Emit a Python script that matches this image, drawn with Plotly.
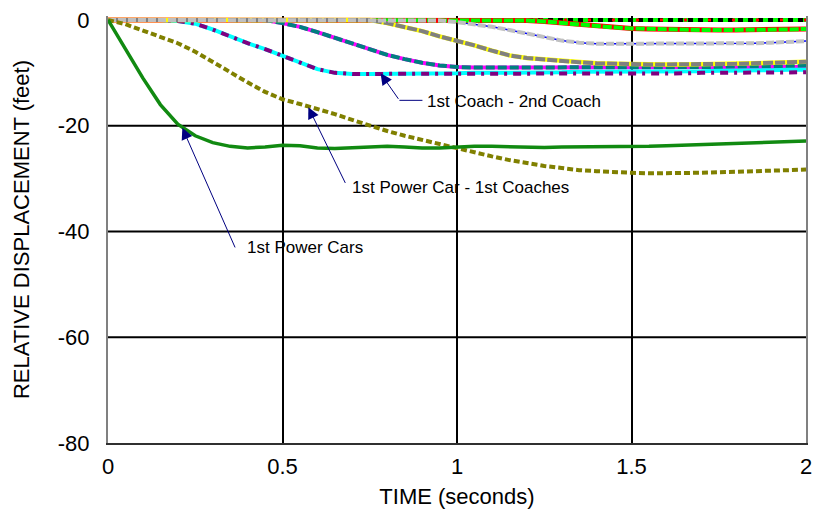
import plotly.graph_objects as go

# Time axis (seconds)
time_s = [0.00, 0.05, 0.10, 0.15, 0.20, 0.25, 0.30, 0.35, 0.40, 0.45,
          0.50, 0.55, 0.60, 0.65, 0.70, 0.75, 0.80, 0.85, 0.90, 0.95,
          1.00, 1.05, 1.10, 1.15, 1.20, 1.25, 1.30, 1.35, 1.40, 1.45,
          1.50, 1.55, 1.60, 1.65, 1.70, 1.75, 1.80, 1.85, 1.90, 1.95, 2.00]

# Relative displacements (feet)
power_cars = [0.0, -5.5, -11.0, -16.0, -19.7, -21.9, -23.2, -23.9, -24.2, -24.0,
              -23.7, -23.8, -24.2, -24.3, -24.2, -24.0, -23.9, -24.0, -24.2, -24.2,
              -24.0, -23.9, -23.9, -24.0, -24.1, -24.1, -24.0, -24.0, -24.0, -24.0,
              -24.0, -23.9, -23.8, -23.7, -23.6, -23.5, -23.4, -23.3, -23.1, -23.0, -22.9]

power_car_coach = [0.0, -0.8, -2.0, -3.2, -4.4, -6.0, -8.0, -9.9, -11.8, -13.6,
                   -15.0, -15.9, -16.8, -17.8, -18.9, -20.0, -21.0, -21.9, -22.7, -23.5,
                   -24.2, -25.0, -25.8, -26.5, -27.1, -27.6, -28.0, -28.4, -28.6, -28.8,
                   -28.9, -29.0, -29.0, -28.9, -28.9, -28.8, -28.7, -28.6, -28.5, -28.4, -28.3]

coach1_coach2_a = [0.0, 0.0, 0.0, 0.0, -0.2, -0.7, -1.8, -3.2, -4.4, -5.5,
                   -6.7, -8.1, -9.3, -10.0, -10.2, -10.2, -10.2, -10.1, -10.1, -10.1,
                   -10.1, -10.1, -10.1, -10.1, -10.1, -10.1, -10.1, -10.1, -10.1, -10.1,
                   -10.1, -10.1, -10.1, -10.1, -10.0, -10.0, -10.0, -10.0, -10.0, -9.9, -9.9]

coach1_coach2_b = [0.0, 0.0, 0.0, 0.0, -0.2, -0.7, -1.8, -3.2, -4.4, -5.5,
                   -6.7, -8.1, -9.3, -10.0, -10.2, -10.2, -10.2, -10.1, -10.1, -10.1,
                   -10.1, -10.0, -10.0, -9.9, -9.9, -9.9, -9.9, -9.8, -9.8, -9.8,
                   -9.8, -9.8, -9.7, -9.7, -9.7, -9.6, -9.6, -9.5, -9.5, -9.4, -9.4]

coach2_coach3_a = [0.0, 0.0, 0.0, 0.0, 0.0, 0.0, 0.0, 0.0, 0.0, 0.0,
                   -0.6, -1.3, -2.3, -3.4, -4.6, -5.6, -6.6, -7.4, -8.1, -8.6,
                   -8.9, -9.0, -9.0, -9.0, -9.0, -9.0, -9.0, -9.0, -9.0, -9.0,
                   -9.0, -9.0, -9.0, -9.0, -8.9, -8.9, -8.8, -8.8, -8.7, -8.7, -8.6]

coach2_coach3_b = [0.0, 0.0, 0.0, 0.0, 0.0, 0.0, 0.0, 0.0, 0.0, 0.0,
                   -0.6, -1.3, -2.3, -3.4, -4.6, -5.6, -6.6, -7.4, -8.1, -8.6,
                   -8.9, -9.0, -9.0, -9.0, -9.0, -9.0, -9.0, -9.0, -9.0, -9.0,
                   -9.0, -9.0, -9.0, -9.0, -9.0, -9.0, -9.0, -8.9, -8.9, -8.9, -8.9]

coach3_coach4 = [0.0, 0.0, 0.0, 0.0, 0.0, 0.0, 0.0, 0.0, 0.0, 0.0,
                 0.0, 0.0, 0.0, 0.0, 0.0, 0.0, -0.6, -1.3, -2.1, -3.1,
                 -3.9, -4.8, -5.8, -6.7, -7.2, -7.5, -7.8, -8.0, -8.2, -8.3,
                 -8.4, -8.4, -8.4, -8.4, -8.4, -8.3, -8.3, -8.2, -8.1, -8.0, -7.9]

coach4_coach5 = [0.0, 0.0, 0.0, 0.0, 0.0, 0.0, 0.0, 0.0, 0.0, 0.0,
                 0.0, 0.0, 0.0, 0.0, 0.0, 0.0, 0.0, 0.0, 0.0, -0.1,
                 -0.4, -0.8, -1.3, -1.9, -2.6, -3.3, -3.9, -4.3, -4.5, -4.5,
                 -4.5, -4.5, -4.5, -4.5, -4.5, -4.5, -4.5, -4.4, -4.3, -4.1, -4.0]

coach5_coach6 = [0.0, 0.0, 0.0, 0.0, 0.0, 0.0, 0.0, 0.0, 0.0, 0.0,
                 0.0, 0.0, 0.0, 0.0, 0.0, 0.0, 0.0, 0.0, 0.0, 0.0,
                 0.0, 0.0, 0.0, 0.0, -0.1, -0.3, -0.6, -0.9, -1.2, -1.4,
                 -1.6, -1.7, -1.8, -1.9, -1.9, -1.9, -1.9, -1.9, -1.8, -1.8, -1.7]

rear_cars = [0.0, 0.0, 0.0, 0.0, 0.0, 0.0, 0.0, 0.0, 0.0, 0.0,
             0.0, 0.0, 0.0, 0.0, 0.0, 0.0, 0.0, 0.0, 0.0, 0.0,
             0.0, 0.0, 0.0, 0.0, 0.0, 0.0, 0.0, 0.0, 0.0, 0.0,
             0.0, 0.0, 0.0, 0.0, 0.0, 0.0, 0.0, 0.0, 0.0, 0.0, 0.0]

x_ticks = [0, 0.5, 1, 1.5, 2]
x_tick_text = ["0", "0.5", "1", "1.5", "2"]
y_ticks = [0, -20, -40, -60, -80]
y_tick_text = ["0", "-20", "-40", "-60", "-80"]
y_grid = [-20, -40, -60]

FONT = "Liberation Sans, Arial, sans-serif"

# (values, colour, width, dash) drawn bottom to top
series = [
    (coach4_coach5, "#0000ff", 1.5, "solid"),
    (rear_cars, "#00ff00", 4, "solid"),
    (rear_cars, "#000000", 4, "5px,5px"),
    (rear_cars, "#ff0000", 3, "3px,21px"),
    (coach5_coach6, "#ff0000", 5, "solid"),
    (coach5_coach6, "#00ff00", 4, "9px,2px"),
    (coach2_coach3_b, "#ff00ff", 4, "solid"),
    (coach2_coach3_a, "#008080", 4, "9px,3px"),
    (coach1_coach2_b, "#00ffff", 4, "solid"),
    (coach1_coach2_a, "#800080", 4, "8px,6px,3px,6px"),
    (coach3_coach4, "#ffff00", 4.5, "solid"),
    (coach3_coach4, "#808080", 4, "10px,2px"),
    (coach4_coach5, "#c0c0c0", 4, "8px,2px"),
    (power_car_coach, "#808000", 4, "6px,3px"),
    (power_cars, "#118a11", 3.5, "solid"),
]

fig = go.Figure()
for values, colour, width, dash in series:
    fig.add_trace(go.Scatter(
        x=time_s, y=values, mode="lines",
        line=dict(color=colour, width=width, dash=dash),
        showlegend=False, hoverinfo="skip",
    ))

# horizontal grid lines
for g in y_grid:
    fig.add_shape(type="line", xref="x domain", yref="y", x0=0, x1=1, y0=g, y1=g,
                  line=dict(color="black", width=2), layer="below")

NAVY = "#000080"
arrows = [
    # (tip_x, tip_y, tail_x, tail_y)
    (0.781, -10.1, 0.835, -15.2),
    (0.574, -16.5, 0.682, -31.1),
    (0.213, -20.4, 0.366, -43.3),
]
for tx, ty, ax, ay in arrows:
    fig.add_annotation(x=tx, y=ty, ax=ax, ay=ay, axref="x", ayref="y",
                       text="", showarrow=True, arrowhead=2, arrowsize=2.3,
                       arrowwidth=1, arrowcolor=NAVY, standoff=0, startstandoff=0)

# short leader from the first arrow to its label
fig.add_shape(type="line", xref="x", yref="y", x0=0.835, x1=0.901, y0=-15.2, y1=-15.2,
              line=dict(color=NAVY, width=1))

labels = [
    (0.909, -15.4, "1st Coach - 2nd Coach"),
    (0.693, -31.7, "1st Power Car - 1st Coaches"),
    (0.392, -43.1, "1st Power Cars"),
]
for lx, ly, txt in labels:
    fig.add_annotation(x=lx, y=ly, text=txt, showarrow=False, xanchor="left",
                       yanchor="middle", font=dict(family=FONT, size=17, color="black"))

fig.update_layout(
    width=820, height=519,
    margin=dict(l=108, r=8, t=12, b=76),
    paper_bgcolor="white", plot_bgcolor="white",
    font=dict(family=FONT, color="black"),
    showlegend=False,
)
fig.update_xaxes(
    range=[0, 2], tickvals=x_ticks, ticktext=x_tick_text,
    showgrid=True, gridcolor="black", gridwidth=2, zeroline=False,
    showline=True, linecolor="#303030", linewidth=2,
    ticks="", ticklabelstandoff=3,
    tickfont=dict(family=FONT, size=22, color="black"),
    title=dict(text="TIME (seconds)", font=dict(family=FONT, size=22, color="black"), standoff=10),
)
fig.update_yaxes(
    range=[-80, 0.75], tickvals=y_ticks, ticktext=y_tick_text,
    showgrid=False, zeroline=False,
    showline=True, linecolor="#808080", linewidth=2, mirror=True,
    ticks="", ticklabelstandoff=12,
    tickfont=dict(family=FONT, size=22, color="black"),
    title=dict(text="RELATIVE DISPLACEMENT (feet)", font=dict(family=FONT, size=22, color="black"), standoff=22),
)

fig.write_html("out.html")
